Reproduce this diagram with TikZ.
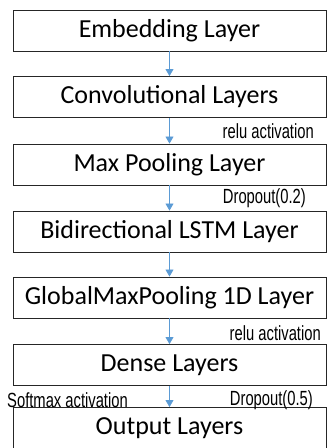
\documentclass[tikz,border=0pt]{standalone}
\usepackage{fontspec}
\setmainfont{Carlito}
\newfontfamily\labfont{Liberation Sans}
\usetikzlibrary{arrows.meta}
\definecolor{arrowblue}{HTML}{5B9BD5}
\newcommand{\cond}[1]{\scalebox{0.72}[1]{#1}}
\begin{document}
\begin{tikzpicture}[x=1pt,y=-1pt,
 layer/.style={draw=black!85, line width=0.9pt, minimum width=313pt, minimum height=41pt, inner sep=0pt, font=\fontsize{26}{28}\selectfont},
 conn/.style={draw=arrowblue, line width=0.7pt, -{Triangle[length=7pt,width=8pt]}},
 lab/.style={inner sep=0pt, font=\labfont\fontsize{20.5}{22}\selectfont}
]
\useasboundingbox (0,0) rectangle (328,448);
\node[layer] (l1) at (169.5,30.5) {Embedding Layer};
\node[layer] (l2) at (169.5,97) {Convolutional Layers};
\node[layer] (l3) at (169.5,164.5) {Max Pooling Layer};
\node[layer] (l4) at (169.5,231.5) {Bidirectional LSTM Layer};
\node[layer] (l5) at (169.5,297.5) {GlobalMaxPooling 1D Layer};
\node[layer] (l6) at (169.5,365) {Dense Layers};
\node[layer] (l7) at (169.5,428) {Output Layers};
\draw[conn] (l1) -- (l2);
\draw[conn] (l2) -- (l3);
\draw[conn] (l3) -- (l4);
\draw[conn] (l4) -- (l5);
\draw[conn] (l5) -- (l6);
\draw[conn] (l6) -- (l7);
\node[lab, anchor=east] (t1) at (314,131) {\cond{relu activation}};
\node[lab, anchor=east] (t2) at (306,198) {\cond{Dropout(0.2)}};
\node[lab, anchor=east] (t3) at (321,333) {\cond{relu activation}};
\node[lab, anchor=west] (t4) at (7,400) {\cond{Softmax activation}};
\node[lab, anchor=east] (t5) at (313,400) {\cond{Dropout(0.5)}};
\end{tikzpicture}
\end{document}
